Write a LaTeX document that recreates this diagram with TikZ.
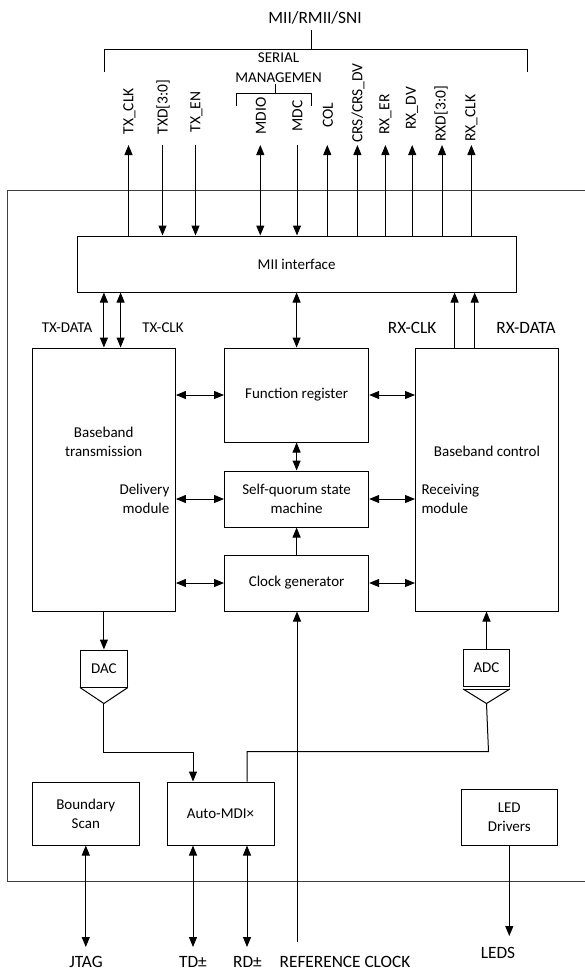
\documentclass[tikz,border=0pt]{standalone}
\usepackage{fontspec}
\setmainfont{Carlito}
\usetikzlibrary{arrows.meta}

\begin{document}
\begin{tikzpicture}[x=1pt,y=-1pt,line width=1pt,
  >={Triangle[length=10pt,width=8pt]},
  blk/.style={draw,inner sep=0pt,font=\fontsize{15}{19}\selectfont,align=center},
  txt/.style={inner sep=0pt,font=\fontsize{15}{19}\selectfont,align=center},
  bigtxt/.style={inner sep=0pt,font=\fontsize{17.3}{20}\selectfont,align=center},
  sig/.style={inner sep=0pt,font=\fontsize{15.5}{18}\selectfont,rotate=90,anchor=west},
  chipframe/.style={draw=black!75,line width=1pt}]
\useasboundingbox (0,0) rectangle (584,971);

% chip outline (open to the right)
\draw[chipframe] (590,190) -- (7.5,190) -- (7.5,881) -- (590,881);

% bus bracket and title
\node[bigtxt] (bus) at (315,18) {MII/RMII/SNI};
\coordinate (busstem) at (311,30);
\coordinate (busmid) at (311,50);
\draw (busstem) -- (busmid);
\draw (104,72) -- (104,50) -- (527,50) -- (527,72);

% serial management bracket
\node[txt,font=\fontsize{15}{20}\selectfont] (smi) at (278.5,67.5) {SERIAL\\MANAGEMEN};
\draw (275.5,84) -- (275.5,94);
\draw (236.5,106) -- (236.5,94) -- (311.5,94) -- (311.5,106);

% signal names
\node[sig] (l1) at (129.5,135) {TX\_CLK};
\node[sig] (l2) at (163,135) {TXD[3:0]};
\node[sig] (l3) at (196.5,133) {TX\_EN};
\node[sig] (l4) at (261,135) {MDIO};
\node[sig] (l5) at (297.5,132) {MDC};
\node[sig] (l6) at (328,128) {COL};
\node[sig] (l7) at (358,143) {CRS/CRS\_DV};
\node[sig] (l8) at (385.5,135) {RX\_ER};
\node[sig] (l9) at (412,130) {RX\_DV};
\node[sig] (l10) at (441,142) {RXD[3:0]};
\node[sig] (l11) at (471.5,142) {RX\_CLK};

\coordinate (txclk) at (128.5,145);
\coordinate (txd) at (162.5,145);
\coordinate (txen) at (195.5,145);
\coordinate (mdio) at (260.3,145);
\coordinate (mdc) at (297,145);
\coordinate (col) at (327.3,145);
\coordinate (crs) at (357.4,145);
\coordinate (rxer) at (385.4,145);
\coordinate (rxdv) at (412.2,145);
\coordinate (rxd) at (442,145);
\coordinate (rxclk) at (471.4,145);

% blocks
\node[blk,minimum width=438.9pt,minimum height=56pt] (mii) at (296.6,264) {MII interface};
\node[draw,minimum width=143pt,minimum height=263pt] (bbt) at (103.9,479.5) {};
\node[draw,minimum width=143pt,minimum height=263pt] (bbc) at (487,479.5) {};
\node[blk,minimum width=144.1pt,minimum height=94pt] (fr) at (296.6,395) {Function register};
\node[blk,minimum width=144.1pt,minimum height=56pt] (sq) at (296.6,499) {Self-quorum state\\machine};
\node[blk,minimum width=144.1pt,minimum height=56pt] (cg) at (296.6,583) {Clock generator};
\node[blk,minimum width=46.9pt,minimum height=37pt] (dac) at (103.9,668.5) {DAC};
\node[blk,minimum width=45.8pt,minimum height=37pt] (adc) at (486.5,667.5) {ADC};
\node[blk,minimum width=107pt,minimum height=63pt] (amdi) at (220.5,813.5) {Auto-MDI×};
\node[blk,minimum width=107pt,minimum height=63pt] (bs) at (85.8,813.5) {Boundary\\Scan};
\node[blk,minimum width=95.5pt,minimum height=56pt] (led) at (509.3,817) {LED\\Drivers};

% texts inside the baseband blocks
\node[txt] (bbtname) at (103.7,442) {Baseband\\transmission};
\node[txt,align=right,anchor=east] (deliv) at (169.8,498.5) {Delivery\\module};
\node[txt] (bbcname) at (487,451) {Baseband control};
\node[txt,align=left,anchor=west] (recv) at (421,498.5) {Receiving\\module};

% converter outputs
\coordinate (dactip) at ([yshift=-16pt]dac.south);
\draw (dac.south west) -- (dactip) -- (dac.south east);
\coordinate (adctip) at ([yshift=-17pt]adc.south);
\draw ([yshift=-2.5pt]adc.south west) -- ([yshift=-2.5pt]adc.south east);
\draw ([yshift=-2.5pt]adc.south west) -- (adctip) -- ([yshift=-2.5pt]adc.south east);

% bus signals
\draw[->] (mii.north -| txclk) -- (txclk);
\draw[->] (txd) -- (mii.north -| txd);
\draw[->] (txen) -- (mii.north -| txen);
\draw[<->] (mdio) -- (mii.north -| mdio);
\draw[->] (mdc) -- (mii.north -| mdc);
\draw[->] (mii.north -| col) -- (col);
\draw[->] (mii.north -| crs) -- (crs);
\draw[->] (mii.north -| rxer) -- (rxer);
\draw[->] (mii.north -| rxdv) -- (rxdv);
\draw[->] (mii.north -| rxd) -- (rxd);
\draw[->] (mii.north -| rxclk) -- (rxclk);

% MII interface to the blocks below
\draw[<->] (mii.south -| bbt) -- (bbt.north);
\draw[<->] ([xshift=16.7pt]bbt.north |- mii.south) -- ([xshift=16.7pt]bbt.north);
\draw[<->] (mii.south -| fr) -- (fr.north);
\draw[->] ([xshift=-32.4pt]bbc.north) -- ([xshift=-32.4pt]bbc.north |- mii.south);
\draw[->] ([xshift=-12.3pt]bbc.north) -- ([xshift=-12.3pt]bbc.north |- mii.south);
\node[txt] (txdata) at (67,328) {TX-DATA};
\node[txt] (txclklbl) at (163,328) {TX-CLK};
\node[bigtxt] (rxclklbl) at (412.2,328) {RX-CLK};
\node[bigtxt] (rxdatalbl) at (526,328) {RX-DATA};

% central links
\draw[<->] (bbt.east |- fr) -- (fr.west);
\draw[<->] (fr.east) -- (bbc.west |- fr);
\draw[<->] (bbt.east |- sq) -- (sq.west);
\draw[<->] (sq.east) -- (bbc.west |- sq);
\draw[<->] (bbt.east |- cg) -- (cg.west);
\draw[<->] (cg.east) -- (bbc.west |- cg);
\draw[<->] (fr.south) -- (sq.north);
\draw[->] (cg.north) -- (sq.south);

% analog path
\draw[->] (bbt.south) -- (dac.north);
\draw[->] (adc.north) -- (adc.north |- bbc.south);
\draw[->] (dactip) -- ++(0,49) -| ([xshift=-27.5pt]amdi.north);
\draw (adctip) -- ++(2,48) -| ([xshift=26.5pt]amdi.north);

% external pins
\node[bigtxt] (jtag) at (86,962) {JTAG};
\node[bigtxt] (td) at (193,962) {TD±};
\node[bigtxt] (rd) at (247.5,962) {RD±};
\node[bigtxt] (refclk) at (345,962) {REFERENCE CLOCK};
\node[bigtxt] (leds) at (498,953) {LEDS};
\coordinate (jtagpin) at (85.8,947);
\coordinate (tdpin) at (193,947);
\coordinate (rdpin) at (247,947);
\coordinate (refend) at (297,942);
\coordinate (ledpin) at (509.3,936);

\draw[<->] (bs.south) -- (jtagpin);
\draw[<->] ([xshift=-27.5pt]amdi.south) -- (tdpin);
\draw[<->] ([xshift=26.5pt]amdi.south) -- (rdpin);
\draw[->] (refend) -- (cg.south -| refend);
\draw[->] (led.south) -- (ledpin);
\end{tikzpicture}
\end{document}
